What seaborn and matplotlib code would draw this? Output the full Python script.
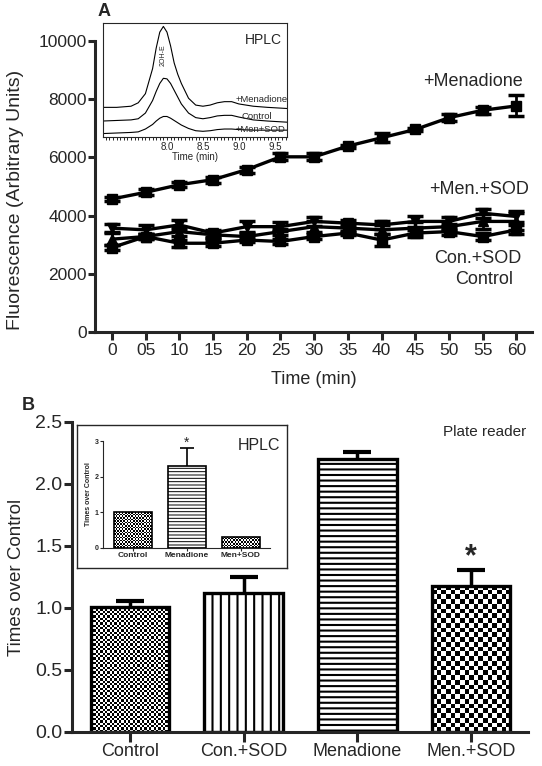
import numpy as np
import seaborn as sns
import matplotlib.pyplot as plt
from matplotlib.ticker import MultipleLocator

sns.set_style("ticks")
plt.rcParams['font.family'] = ['Liberation Sans', 'DejaVu Sans']
plt.rcParams['hatch.linewidth'] = 1.5

# ---- panel A: fluorescence vs time
time_min = [0, 5, 10, 15, 20, 25, 30, 35, 40, 45, 50, 55, 60]
time_labels = ['0', '05', '10', '15', '20', '25', '30', '35', '40', '45', '50', '55', '60']
menadione = [4570, 4800, 5060, 5235, 5580, 6020, 6020, 6390, 6675, 6960, 7365, 7620, 7770]
menadione_err = [80, 100, 80, 100, 100, 120, 120, 50, 150, 50, 120, 120, 360]
men_sod = [3570, 3510, 3680, 3400, 3620, 3620, 3800, 3740, 3680, 3800, 3800, 4080, 3970]
men_sod_err = [150, 150, 180, 120, 180, 150, 150, 120, 150, 200, 150, 150, 200]
con_sod = [3190, 3280, 3450, 3340, 3280, 3450, 3620, 3570, 3510, 3570, 3620, 3800, 3800]
con_sod_err = [200, 100, 150, 100, 120, 100, 200, 150, 150, 200, 100, 250, 300]
control = [2900, 3280, 3050, 3050, 3160, 3110, 3280, 3400, 3160, 3400, 3450, 3280, 3510]
control_err = [80, 100, 120, 100, 80, 100, 100, 80, 200, 120, 100, 120, 150]

# HPLC chromatogram inset
hplc_time = [7.1, 7.3, 7.5, 7.6, 7.7, 7.8, 7.85, 7.9, 7.95, 8.0, 8.05, 8.1, 8.15, 8.2,
             8.3, 8.4, 8.5, 8.6, 8.7, 8.8, 8.9, 9.0, 9.2, 9.4, 9.67]
hplc_menadione = [26, 26, 27, 30, 38, 60, 78, 92, 97, 92, 80, 65, 55, 47,
                  34, 28, 27, 28, 30, 31, 31, 29, 27, 26, 25]
hplc_control = [14, 14.5, 15, 16, 21, 32, 40, 47, 51.5, 51, 47, 41, 35, 29,
                21, 17, 16, 17, 18.5, 19, 19, 17.5, 15, 14, 13]
hplc_men_sod = [3, 3.5, 4, 4.5, 7, 11, 14, 16.5, 18, 18, 16.5, 14.5, 12.5, 10.5,
                7.5, 5.5, 5, 5.5, 6.5, 7, 7, 6.5, 6, 6, 6]

# ---- panel B: bars
groups = ['Control', 'Con.+SOD', 'Menadione', 'Men.+SOD']
plate_vals = [1.01, 1.12, 2.20, 1.18]
plate_err = [0.05, 0.13, 0.06, 0.13]
hplc_groups = ['Control', 'Menadione', 'Men+SOD']
hplc_vals = [1.0, 2.3, 0.32]
hplc_err = [0.0, 0.5, 0.0]


def checker(ax, patch, cell):
    x0, y0 = patch.get_x(), patch.get_y()
    w, h = patch.get_width(), patch.get_height()
    p0 = ax.transData.transform((x0, y0))
    p1 = ax.transData.transform((x0 + w, y0 + h))
    nx = max(1, int(round(abs(p1[0] - p0[0]) / cell)))
    ny = max(1, int(round(abs(p1[1] - p0[1]) / cell)))
    grid = np.indices((ny, nx)).sum(axis=0) % 2
    im = ax.imshow(grid, cmap='gray_r', vmin=0, vmax=1, extent=[x0, x0 + w, y0, y0 + h],
                   aspect='auto', interpolation='nearest', zorder=0.5)
    im.set_clip_path(patch)
    patch.set_facecolor('none')


def up_errorbar(ax, x, y, err, lw, cap, capw):
    eb = ax.errorbar(x, y, yerr=[np.zeros(len(err)), err], fmt='none', ecolor='black',
                     elinewidth=lw, capsize=cap, capthick=capw, zorder=0.8)
    eb[1][0].set_visible(False)


fig = plt.figure(figsize=(5.42, 7.66), dpi=100)

# ================= A =================
axA = fig.add_axes([95 / 542, 1 - 332 / 766, 437 / 542, 291 / 766])
series = [(control, control_err, 's'), (con_sod, con_sod_err, '^'),
          (men_sod, men_sod_err, 'v'), (menadione, menadione_err, 's')]
for vals, err, mk in series:
    sns.lineplot(x=time_min, y=vals, ax=axA, color='black', lw=2.4, marker=mk,
                 markersize=7, markeredgecolor='black', markeredgewidth=1)
    axA.errorbar(time_min, vals, yerr=err, fmt='none', ecolor='black', elinewidth=2,
                 capsize=5.5, capthick=2.5)
axA.set_xlim(-2.5, 62.3)
axA.set_ylim(0, 10000)
axA.set_xticks(time_min)
axA.set_xticklabels(time_labels, fontsize=12.5)
axA.set_yticks([0, 2000, 4000, 6000, 8000, 10000])
axA.tick_params(axis='y', labelsize=12.5, length=5, width=2.2, pad=1)
axA.tick_params(axis='x', length=6, width=2.2, pad=2)
sns.despine(ax=axA)
for s in ['left', 'bottom']:
    axA.spines[s].set_linewidth(2.2)
axA.set_xlabel('Time (min)', fontsize=13, labelpad=9)
axA.set_ylabel('Fluorescence (Arbitrary Units)', fontsize=14)
axA.yaxis.set_label_coords(-0.162, 0.455)
axA.text(53.5, 8600, '+Menadione', fontsize=13, ha='center', va='center')
axA.text(54.5, 4880, '+Men.+SOD', fontsize=13, ha='center', va='center')
axA.text(54.2, 2540, 'Con.+SOD', fontsize=13, ha='center', va='center')
axA.text(55.2, 1790, 'Control', fontsize=13, ha='center', va='center')
fig.text(98 / 542, 1 - 12 / 766, 'A', fontsize=13, fontweight='bold', ha='left', va='center')

# inset chromatogram
axI = fig.add_axes([103 / 542, 1 - 137 / 766, 184 / 542, 114 / 766])
for tr in [hplc_menadione, hplc_control, hplc_men_sod]:
    sns.lineplot(x=hplc_time, y=tr, ax=axI, color='black', lw=0.8)
axI.set_xlim(7.11, 9.67)
axI.set_ylim(0, 100)
axI.set_yticks([])
axI.set_xticks([8.0, 8.5, 9.0, 9.5])
axI.set_xticklabels(['8.0', '8.5', '9.0', '9.5'], fontsize=7)
axI.xaxis.set_minor_locator(MultipleLocator(0.05))
axI.tick_params(axis='x', which='major', length=2.5, width=0.7, pad=1)
axI.tick_params(axis='x', which='minor', length=2, width=0.7)
for s in axI.spines.values():
    s.set_linewidth(0.8)
axI.set_xlabel('Time (min)', fontsize=7, labelpad=0)
axI.text(9.6, 85, 'HPLC', fontsize=10, ha='right', va='center')
axI.text(7.95, 72, '2OH-E', fontsize=5, rotation=90, ha='center', va='center')
axI.text(9.32, 33, '+Menadione', fontsize=6.8, ha='center', va='center')
axI.text(9.25, 18.4, 'Control', fontsize=6.8, ha='center', va='center')
axI.text(9.3, 7, '+Men+SOD', fontsize=6.8, ha='center', va='center')

# ================= B =================
axB = fig.add_axes([72 / 542, 1 - 732 / 766, 456 / 542, 310 / 766])
sns.barplot(x=groups, y=plate_vals, ax=axB, color='white', edgecolor='black',
            linewidth=2.4, width=0.69, errorbar=None, saturation=1)
axB.set_xlim(-0.51, 3.5)
axB.set_ylim(0, 2.5)
bars = axB.patches
for p in bars:
    p.set_zorder(1)
bars[1].set_hatch('||')
bars[2].set_hatch('---')
checker(axB, bars[0], 2.3)
checker(axB, bars[3], 4.7)
axB.set_xlim(-0.51, 3.5)
axB.set_ylim(0, 2.5)
up_errorbar(axB, np.arange(4), plate_vals, plate_err, 2.5, 10, 3)
axB.set_yticks([0, 0.5, 1.0, 1.5, 2.0, 2.5])
axB.set_yticklabels(['0.0', '0.5', '1.0', '1.5', '2.0', '2.5'])
axB.tick_params(axis='y', labelsize=14, length=6, width=2.2, pad=1)
axB.tick_params(axis='x', labelsize=13, length=7, width=2.2, pad=1)
sns.despine(ax=axB)
for s in ['left', 'bottom']:
    axB.spines[s].set_linewidth(2.2)
axB.set_ylabel('Times over Control', fontsize=13.5)
axB.yaxis.set_label_coords(-0.103, 0.5)
axB.text(3, plate_vals[3] + plate_err[3] + 0.1, '*', fontsize=22, fontweight='bold',
         ha='center', va='center')
axB.text(3.12, 2.42, 'Plate reader', fontsize=11, ha='center', va='center')
fig.text(22 / 542, 1 - 405 / 766, 'B', fontsize=13, fontweight='bold', ha='left', va='center')

# inset HPLC bars
axF = fig.add_axes([77 / 542, 1 - 568 / 766, 210 / 542, 143 / 766])
axF.set_xticks([])
axF.set_yticks([])
for s in axF.spines.values():
    s.set_linewidth(1)
axF.text(0.97, 0.86, 'HPLC', transform=axF.transAxes, fontsize=11.5, ha='right', va='center')

axH = fig.add_axes([103 / 542, 1 - 548 / 766, 167 / 542, 107 / 766])
with plt.rc_context({'hatch.linewidth': 0.7}):
    sns.barplot(x=hplc_groups, y=hplc_vals, ax=axH, color='white', edgecolor='black',
                linewidth=1.2, width=0.7, errorbar=None, saturation=1)
    hb = axH.patches
    hb[1].set_hatch('-----')
axH.set_facecolor('none')
axH.set_xlim(-0.55, 2.54)
axH.set_ylim(0, 3)
for p in hb:
    p.set_zorder(1)
checker(axH, hb[0], 1.6)
checker(axH, hb[2], 1.6)
axH.set_xlim(-0.55, 2.54)
axH.set_ylim(0, 3)
up_errorbar(axH, [1], [hplc_vals[1]], [hplc_err[1]], 1.2, 5, 1.2)
axH.set_yticks([0, 1, 2, 3])
axH.set_yticklabels(['0', '1', '2', '3'], fontsize=5, fontweight='bold')
axH.set_xticklabels(hplc_groups, fontsize=6, fontweight='bold')
axH.tick_params(axis='y', length=2, width=0.8, pad=1)
axH.tick_params(axis='x', length=2, width=0.8, pad=1)
sns.despine(ax=axH)
for s in ['left', 'bottom']:
    axH.spines[s].set_linewidth(0.8)
axH.set_ylabel('Times over Control', fontsize=5, fontweight='bold', labelpad=2)
axH.text(1, hplc_vals[1] + hplc_err[1] + 0.15, '*', fontsize=10, ha='center', va='center')

fig.savefig('out.png', dpi=100)
